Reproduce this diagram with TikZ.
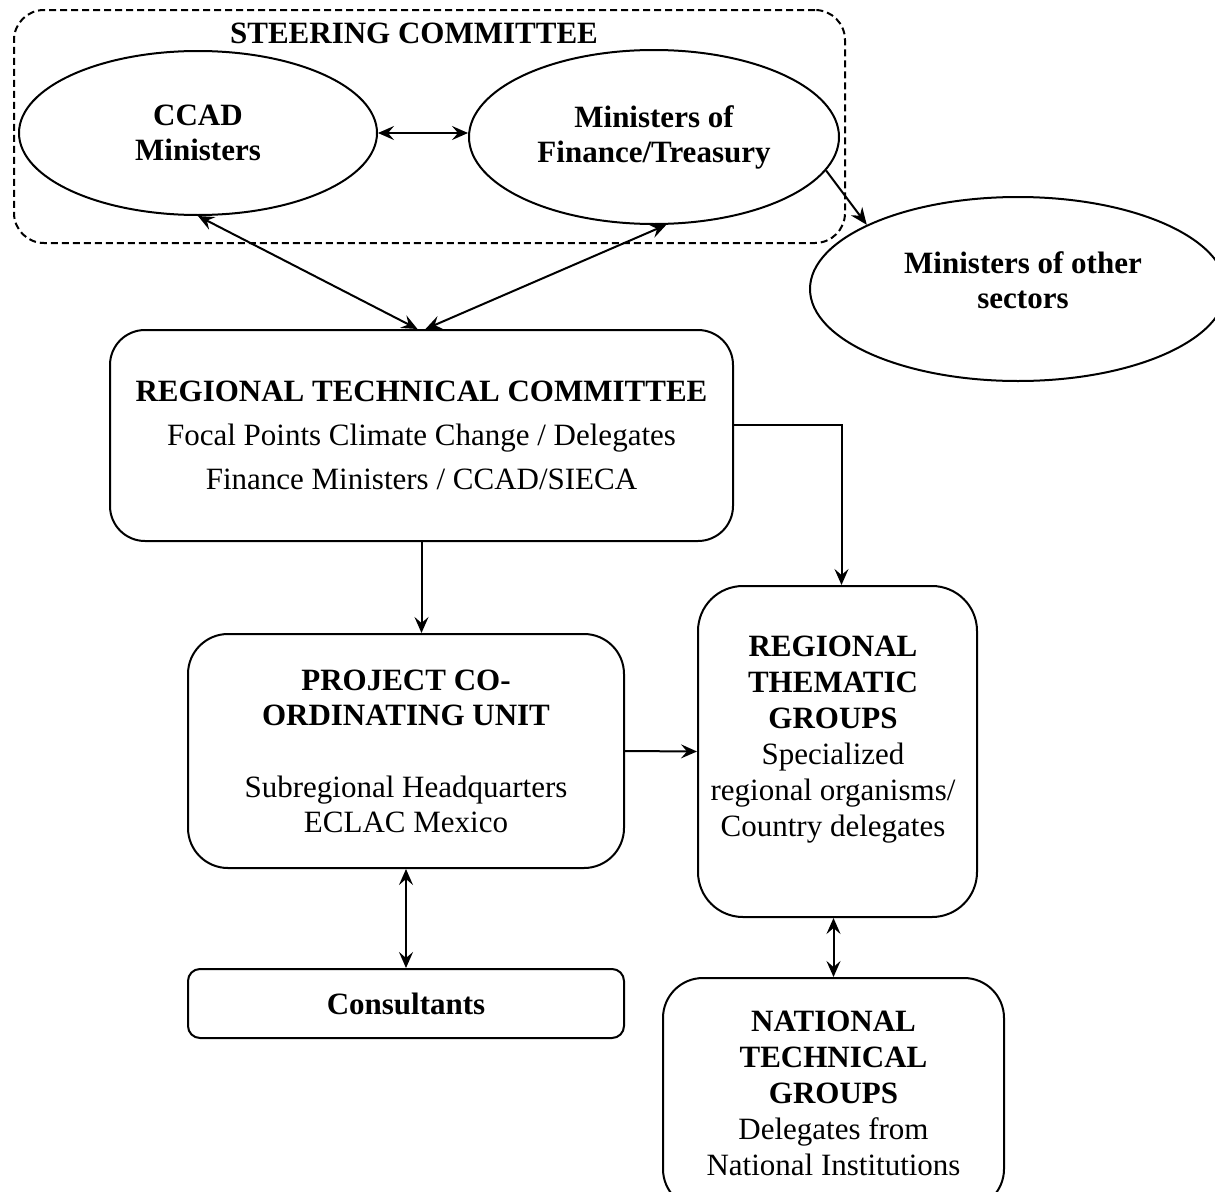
\documentclass[tikz,border=0pt]{standalone}
\usepackage{fontspec}
\setmainfont{Liberation Serif}
\usetikzlibrary{shapes.geometric,arrows.meta}
\begin{document}
\begin{tikzpicture}[x=1pt,y=-1pt,line width=2pt,
  >={Stealth[length=16pt,width=14pt,inset=6pt]},
  txt/.style={font=\fontsize{31}{35}\selectfont,align=center,inner sep=0pt},
  bold/.style={txt,font=\fontsize{31}{35}\selectfont\bfseries},
  oval/.style={draw,ellipse,bold},
  box/.style={draw,rectangle,txt},
  steerbox/.style={draw,dash pattern=on 7pt off 4pt,rounded corners=30pt}]
\useasboundingbox (0,0) rectangle (1215,1191);
\clip (0,0) rectangle (1215,1191);
% steering committee
\node[steerbox,minimum width=831pt,minimum height=233pt] (steering) at (429.5,126.5) {};
\node[bold] (steertitle) at (414,33) {STEERING COMMITTEE};
\node[oval,minimum width=358pt,minimum height=164pt] (ccad) at (198,133) {CCAD\\Ministers};
\node[oval,minimum width=370pt,minimum height=174pt] (fin) at (654,137) {Ministers of\\Finance/Treasury};
\node[oval,minimum width=416pt,minimum height=184pt] (others) at (1018,289) {};
\node[bold] (otherstext) at (1023,280) {Ministers of other\\sectors};
% boxes
\node[box,rounded corners=35pt,minimum width=623pt,minimum height=211pt,font=\fontsize{31}{44}\selectfont] (rtc) at (421.5,435.5)
  {\textbf{REGIONAL TECHNICAL COMMITTEE}\\Focal Points Climate Change / Delegates\\Finance Ministers / CCAD/SIECA};
\node[box,rounded corners=40pt,minimum width=436pt,minimum height=234pt] (pcu) at (406,751)
  {\textbf{PROJECT CO-}\\\textbf{ORDINATING UNIT}\\[37pt]Subregional Headquarters\\ECLAC Mexico};
\node[box,rounded corners=45pt,minimum width=279pt,minimum height=331pt] (rtg) at (837.5,751.5) {};
\node[txt,font=\fontsize{31}{36}\selectfont] (rtgtext) at (833,739.5)
  {\textbf{REGIONAL}\\\textbf{THEMATIC}\\\textbf{GROUPS}\\Specialized\\regional organisms/\\Country delegates};
\node[box,rounded corners=12pt,minimum width=436pt,minimum height=69pt] (cons) at (406,1003.5) {\textbf{Consultants}};
\node[box,rounded corners=40pt,minimum width=341pt,minimum height=231pt,font=\fontsize{31}{36}\selectfont] (ntg) at (833.5,1093.5)
  {\textbf{NATIONAL}\\\textbf{TECHNICAL}\\\textbf{GROUPS}\\Delegates from\\National Institutions};
% connectors
\draw[<->] (ccad.east) -- (ccad.east -| fin.west);
\draw[<->] (ccad.south) -- ([xshift=-4pt]rtc.north);
\draw[<->] (fin.-82) -- ([xshift=4pt]rtc.north);
\draw[-{Stealth[length=17pt,width=14pt]}] (fin.-11) -- (others.157);
\draw[->] ([yshift=11pt]rtc.east) -| ([xshift=4pt]rtg.north);
\draw[->] (rtc.south) -- (rtc.south |- pcu.north);
\draw[->] (pcu.east) -- (rtg.west);
\draw[<->] (pcu.south) -- (cons.north);
\draw[<->] (ntg.north |- rtg.south) -- (ntg.north);
\end{tikzpicture}
\end{document}
